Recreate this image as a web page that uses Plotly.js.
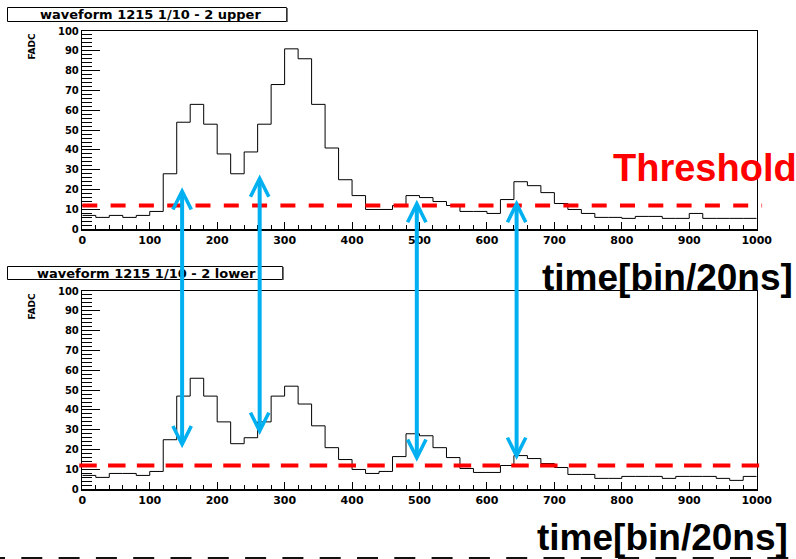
<!DOCTYPE html>
<html><head><meta charset="utf-8">
<script src="https://cdn.plot.ly/plotly-3.0.1.min.js"></script>
<style>html,body{margin:0;padding:0;background:#fff}</style>
</head><body>
<div id="chart" style="width:796px;height:559px"></div>
<script>
// ---- data ----
const binEdges = [0,20,40,60,80,100,120,140,160,180,200,220,240,260,280,300,320,340,360,380,400,
  420,440,460,480,500,520,540,560,580,600,620,640,660,680,700,720,740,760,780,800,
  820,840,860,880,900,920,940,960,980,1000];
const upperFADC = [7,6,7,6,7,9,28,54,63,53,
  38,28,39,53,73,91,86,63,41,25,
  17,10,10,12,17,16,14,12,9,9,
  8,15,24,22,18.5,13,10,8,6,6,
  5.5,6.5,6.5,5.5,5.5,8,5.5,5.5,5.5,5.5];
const lowerFADC = [7,6,8,8,7,9,25,47,56,47,
  34,23,26,34,47,52,43,32,21,15,
  10,8,9,16.5,28,27,21,16,10.5,8.5,
  8.5,12,17,15.5,13,11,7.5,7.5,5.5,5.5,
  6.5,6.5,6.5,5.5,6.5,6.5,6.5,5.5,4.5,6.5];
const thresholdFADC = 12;
const arrowTimes = [148, 263, 496, 644];
const arrowUpperTips = [21.5, 27.9, 15.1, 15.1];
const arrowLowerTips = [20.7, 27.4, 13.9, 14.8];
const xTickVals = [0,100,200,300,400,500,600,700,800,900,1000];
const xTickText = ['0','100','200','300','400','500','600','700','800','900','1000'];
const yTickVals = [0,10,20,30,40,50,60,70,80,90,100];
const yTickText = ['0','10','20','30','40','50','60','70','80','90','100'];
const upperTitle = 'waveform 1215 1/10 - 2 upper';
const lowerTitle = 'waveform 1215 1/10 - 2 lower';
const yLabel = 'FADC';
const timeLabel = 'time[bin/20ns]';
const thresholdLabel = 'Threshold';

// ---- layout helpers ----
const W = 796, H = 559;
const px = v => v / W;
const py = v => 1 - v / H;
const stepY = vals => vals.concat([vals[vals.length - 1]]);

const tickFontX = {family: 'DejaVu Sans', size: 11, weight: 'bold', color: '#000'};
const tickFontY = {family: 'DejaVu Sans', size: 10, weight: 'bold', color: '#000'};

function xAxis(anchor) {
  return {
    domain: [px(82.3), px(756.7)], range: [0, 1000], anchor: anchor,
    tickmode: 'array', tickvals: xTickVals, ticktext: xTickText,
    ticks: 'inside', ticklen: 7, tickwidth: 1, tickcolor: '#000',
    minor: {tickmode: 'linear', tick0: 0, dtick: 20, ticks: 'inside', ticklen: 4, tickwidth: 1, tickcolor: '#000'},
    showline: true, linecolor: '#000', linewidth: 1.5, mirror: true,
    showgrid: false, zeroline: false, tickfont: tickFontX, fixedrange: true
  };
}
function yAxis(anchor, top, bottom) {
  return {
    domain: [py(bottom), py(top)], range: [0, 100], anchor: anchor,
    tickmode: 'array', tickvals: yTickVals, ticktext: yTickText,
    ticks: 'inside', ticklen: 18, tickwidth: 1, tickcolor: '#000',
    minor: {tickmode: 'linear', tick0: 0, dtick: 2, ticks: 'inside', ticklen: 10, tickwidth: 1, tickcolor: '#000'},
    showline: true, linecolor: '#000', linewidth: 1.5, mirror: true,
    showgrid: false, zeroline: false, tickfont: tickFontY, fixedrange: true
  };
}

const data = [
  {x: binEdges, y: stepY(upperFADC), xaxis: 'x', yaxis: 'y', type: 'scatter', mode: 'lines',
   line: {shape: 'hv', color: '#000', width: 1}, hoverinfo: 'skip', showlegend: false},
  {x: binEdges, y: stepY(lowerFADC), xaxis: 'x2', yaxis: 'y2', type: 'scatter', mode: 'lines',
   line: {shape: 'hv', color: '#000', width: 1}, hoverinfo: 'skip', showlegend: false}
];

const titleFont = {family: 'DejaVu Sans', size: 13, weight: 'bold', color: '#000'};
const bigFont = {family: 'Liberation Sans', size: 37, weight: 'bold', color: '#000'};

const baseAnnotations = [
  {text: upperTitle, xref: 'paper', yref: 'paper', x: px(150), y: py(14.5), xanchor: 'center', yanchor: 'middle', showarrow: false, font: titleFont},
  {text: lowerTitle, xref: 'paper', yref: 'paper', x: px(146), y: py(273), xanchor: 'center', yanchor: 'middle', showarrow: false, font: titleFont},
  {text: yLabel, xref: 'paper', yref: 'y domain', x: px(31), y: 1, xanchor: 'center', yanchor: 'top', textangle: -90, showarrow: false,
   font: {family: 'DejaVu Sans', size: 9, weight: 'bold', color: '#000'}},
  {text: yLabel, xref: 'paper', yref: 'y2 domain', x: px(31), y: 1, xanchor: 'center', yanchor: 'top', textangle: -90, showarrow: false,
   font: {family: 'DejaVu Sans', size: 9, weight: 'bold', color: '#000'}},
  {text: thresholdLabel, xref: 'paper', yref: 'paper', x: px(705), y: py(168.5), xanchor: 'center', yanchor: 'middle', showarrow: false,
   font: {family: 'Liberation Sans', size: 38, weight: 'bold', color: '#FF0000'}},
  {text: timeLabel, xref: 'paper', yref: 'paper', x: px(667), y: py(277), xanchor: 'center', yanchor: 'middle', showarrow: false, font: bigFont},
  {text: timeLabel, xref: 'paper', yref: 'paper', x: px(662), y: py(537), xanchor: 'center', yanchor: 'middle', showarrow: false, font: bigFont}
];

const shapes = [
  // title boxes
  {type: 'rect', xref: 'paper', yref: 'paper', x0: px(7.5), x1: px(286.5), y0: py(21.5), y1: py(7.5), line: {color: '#000', width: 1}, fillcolor: 'rgba(0,0,0,0)'},
  {type: 'line', xref: 'paper', yref: 'paper', x0: px(287), x1: px(287), y0: py(22), y1: py(8), line: {color: '#444', width: 1.5}},
  {type: 'rect', xref: 'paper', yref: 'paper', x0: px(7.5), x1: px(282.5), y0: py(279.5), y1: py(266.5), line: {color: '#000', width: 1}, fillcolor: 'rgba(0,0,0,0)'},
  {type: 'line', xref: 'paper', yref: 'paper', x0: px(283), x1: px(283), y0: py(280), y1: py(267), line: {color: '#444', width: 1.5}},
  // thresholds
  {type: 'line', xref: 'x domain', yref: 'y', x0: 0, x1: 1.008, y0: thresholdFADC, y1: thresholdFADC,
   line: {color: '#FF0000', width: 4, dash: '15px,13.3px'}},
  {type: 'line', xref: 'x2 domain', yref: 'y2', x0: -0.0045, x1: 1.0036, y0: thresholdFADC, y1: thresholdFADC,
   line: {color: '#FF0000', width: 4, dash: '17.5px,11.3px'}},
  // bottom dashed border
  {type: 'line', xref: 'paper', yref: 'paper', x0: px(-16), x1: 1, y0: 0, y1: 0,
   line: {color: '#111', width: 4, dash: '21px,16.3px'}}
];

const layout = {
  width: W, height: H, margin: {l: 0, r: 0, t: 0, b: 0, pad: 0},
  paper_bgcolor: '#fff', plot_bgcolor: '#fff', showlegend: false,
  xaxis: xAxis('y'), yaxis: yAxis('x', 31, 229.3),
  xaxis2: xAxis('y2'), yaxis2: yAxis('x2', 291, 489.3),
  shapes: shapes, annotations: baseAnnotations
};

const gd = document.getElementById('chart');
Plotly.newPlot(gd, data, layout, {staticPlot: true, displayModeBar: false}).then(function () {
  const fl = gd._fullLayout;
  const ya = fl.yaxis, ya2 = fl.yaxis2;
  const arrows = arrowTimes.map(function (t, i) {
    const topPx = ya._offset + ya.l2p(arrowUpperTips[i]);
    const botPx = ya2._offset + ya2.l2p(arrowLowerTips[i]);
    return {
      xref: 'x2', yref: 'y2', x: t, y: arrowLowerTips[i],
      axref: 'pixel', ayref: 'pixel', ax: 0, ay: topPx - botPx,
      text: '', showarrow: true, borderpad: 0, font: {size: 1},
      arrowside: 'end+start', arrowhead: 5, startarrowhead: 5,
      arrowsize: 0.9, startarrowsize: 0.9, arrowwidth: 4, arrowcolor: '#00B0F0', standoff: 0, startstandoff: 0
    };
  });
  return Plotly.relayout(gd, {annotations: baseAnnotations.concat(arrows)});
});
</script>
</body></html>
